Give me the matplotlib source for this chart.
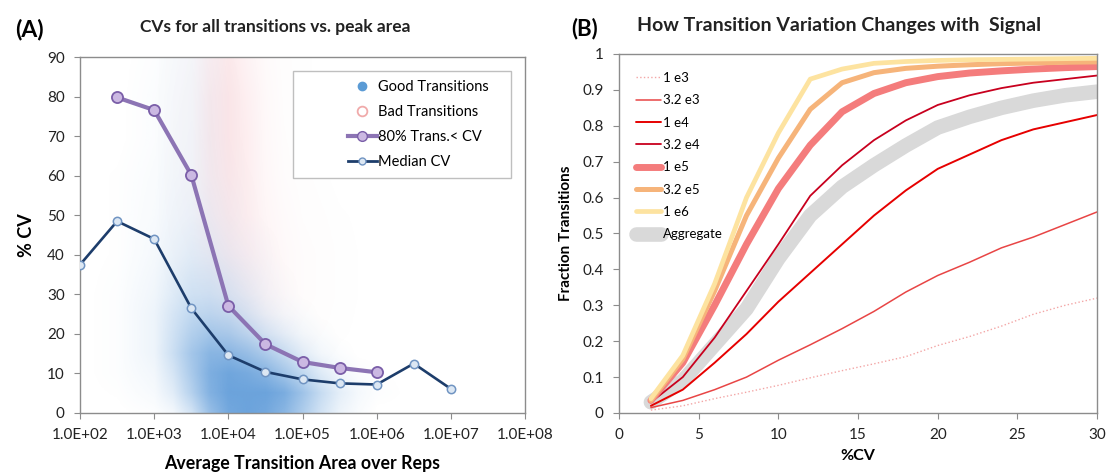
import numpy as np
import matplotlib
matplotlib.use("Agg")
import matplotlib.pyplot as plt
from matplotlib.colors import LinearSegmentedColormap
from matplotlib.lines import Line2D
from matplotlib.patches import Rectangle

plt.rcParams["font.family"] = ["Lato", "DejaVu Sans"]

# ---- panel A data ----
area_80 = [10**2.5, 1e3, 10**3.5, 1e4, 10**4.5, 1e5, 10**5.5, 1e6]
cv_80 = [79.8, 76.6, 60.2, 27.1, 17.4, 12.9, 11.4, 10.3]

area_med = [1e2, 10**2.5, 1e3, 10**3.5, 1e4, 10**4.5, 1e5, 10**5.5, 1e6, 10**6.5, 1e7]
cv_med = [37.5, 48.5, 44.0, 26.5, 14.6, 10.4, 8.5, 7.5, 7.2, 12.5, 6.1]

x_ticks_a = [1e2, 1e3, 1e4, 1e5, 1e6, 1e7, 1e8]
x_labels_a = ["1.0E+02", "1.0E+03", "1.0E+04", "1.0E+05", "1.0E+06", "1.0E+07", "1.0E+08"]

# density of the good-transition cloud (0..1)
good_logx = [2.0, 2.5, 3.0, 3.25, 3.5, 3.75, 4.0, 4.25, 4.5, 4.75, 5.0, 5.25, 5.5, 5.75, 6.0, 6.5]
good_cv = [0, 5, 10, 15, 20, 25, 30, 40, 50, 60, 70, 80, 90]
good_dens = [
    [0, 0.00, 0.02, 0.08, 0.30, 0.70, 0.95, 1.00, 0.95, 0.80, 0.55, 0.30, 0.12, 0.04, 0.00, 0],
    [0, 0.01, 0.06, 0.20, 0.50, 0.85, 1.00, 1.00, 1.00, 0.90, 0.65, 0.38, 0.18, 0.07, 0.02, 0],
    [0, 0.02, 0.09, 0.28, 0.58, 0.88, 0.97, 0.92, 0.82, 0.62, 0.42, 0.22, 0.09, 0.03, 0.01, 0],
    [0, 0.02, 0.12, 0.35, 0.62, 0.80, 0.80, 0.70, 0.55, 0.38, 0.20, 0.08, 0.03, 0.00, 0.00, 0],
    [0, 0.02, 0.12, 0.32, 0.52, 0.62, 0.58, 0.45, 0.30, 0.18, 0.08, 0.03, 0.00, 0.00, 0.00, 0],
    [0, 0.02, 0.12, 0.28, 0.42, 0.45, 0.40, 0.28, 0.15, 0.07, 0.03, 0.00, 0.00, 0.00, 0.00, 0],
    [0, 0.02, 0.10, 0.22, 0.32, 0.33, 0.27, 0.17, 0.08, 0.03, 0.00, 0.00, 0.00, 0.00, 0.00, 0],
    [0, 0.01, 0.07, 0.14, 0.20, 0.19, 0.13, 0.07, 0.03, 0.00, 0.00, 0.00, 0.00, 0.00, 0.00, 0],
    [0, 0.01, 0.05, 0.10, 0.13, 0.12, 0.06, 0.02, 0.00, 0.00, 0.00, 0.00, 0.00, 0.00, 0.00, 0],
    [0, 0.01, 0.04, 0.08, 0.10, 0.08, 0.03, 0.01, 0.00, 0.00, 0.00, 0.00, 0.00, 0.00, 0.00, 0],
    [0, 0.00, 0.03, 0.07, 0.09, 0.07, 0.02, 0.00, 0.00, 0.00, 0.00, 0.00, 0.00, 0.00, 0.00, 0],
    [0, 0.00, 0.03, 0.06, 0.08, 0.06, 0.02, 0.00, 0.00, 0.00, 0.00, 0.00, 0.00, 0.00, 0.00, 0],
    [0, 0.00, 0.02, 0.05, 0.07, 0.05, 0.01, 0.00, 0.00, 0.00, 0.00, 0.00, 0.00, 0.00, 0.00, 0],
]

# density of the bad-transition cloud
bad_logx = [3.0, 3.5, 3.75, 4.0, 4.25, 4.5, 4.75, 5.0, 5.5, 6.0]
bad_cv = [0, 10, 20, 30, 40, 50, 60, 70, 80, 90]
bad_dens = [
    [0, 0.00, 0.00, 0.00, 0.00, 0.00, 0.00, 0.00, 0.00, 0],
    [0, 0.00, 0.00, 0.05, 0.05, 0.05, 0.03, 0.02, 0.00, 0],
    [0, 0.00, 0.05, 0.12, 0.15, 0.15, 0.10, 0.06, 0.02, 0],
    [0, 0.03, 0.12, 0.28, 0.35, 0.30, 0.20, 0.10, 0.03, 0],
    [0, 0.08, 0.30, 0.50, 0.50, 0.35, 0.20, 0.10, 0.03, 0],
    [0, 0.12, 0.45, 0.65, 0.55, 0.30, 0.15, 0.07, 0.02, 0],
    [0, 0.15, 0.55, 0.75, 0.55, 0.25, 0.10, 0.05, 0.00, 0],
    [0, 0.15, 0.60, 0.80, 0.55, 0.22, 0.08, 0.03, 0.00, 0],
    [0, 0.15, 0.60, 0.80, 0.50, 0.20, 0.06, 0.02, 0.00, 0],
    [0, 0.12, 0.50, 0.70, 0.40, 0.15, 0.05, 0.02, 0.00, 0],
]

# ---- panel B data ----
cv_pct = [2, 4, 6, 8, 10, 12, 14, 16, 18, 20, 22, 24, 26, 28, 30]
frac_1e3 = [0.008, 0.02, 0.04, 0.058, 0.077, 0.098, 0.118, 0.137, 0.157, 0.188, 0.213, 0.242, 0.275, 0.30, 0.32]
frac_32e3 = [0.015, 0.035, 0.065, 0.10, 0.147, 0.19, 0.235, 0.283, 0.337, 0.383, 0.42, 0.46, 0.49, 0.525, 0.56]
frac_1e4 = [0.02, 0.065, 0.14, 0.22, 0.31, 0.39, 0.47, 0.55, 0.62, 0.68, 0.72, 0.76, 0.79, 0.81, 0.83]
frac_32e4 = [0.03, 0.10, 0.21, 0.34, 0.47, 0.605, 0.69, 0.76, 0.815, 0.858, 0.885, 0.905, 0.92, 0.93, 0.94]
frac_1e5 = [0.035, 0.14, 0.30, 0.47, 0.625, 0.746, 0.839, 0.89, 0.92, 0.937, 0.947, 0.953, 0.958, 0.962, 0.965]
frac_32e5 = [0.035, 0.15, 0.34, 0.55, 0.71, 0.846, 0.92, 0.948, 0.96, 0.966, 0.97, 0.973, 0.975, 0.977, 0.978]
frac_1e6 = [0.04, 0.16, 0.36, 0.60, 0.78, 0.93, 0.958, 0.974, 0.979, 0.982, 0.984, 0.985, 0.986, 0.987, 0.988]
frac_agg = [0.03, 0.09, 0.19, 0.29, 0.43, 0.55, 0.63, 0.69, 0.745, 0.795, 0.825, 0.85, 0.87, 0.885, 0.895]

GRID = "#8c8c8c"


def style_axes(ax):
    for s in ax.spines.values():
        s.set_color(GRID)
        s.set_linewidth(1)
    ax.tick_params(colors=GRID, labelcolor="#222222", labelsize=11, length=4,
                   direction="out", pad=7)


def upsample(xs, ys, z, xf, yf):
    """Bilinear resampling of a coarse density table onto a fine drawing grid."""
    z = np.asarray(z, dtype=float)
    rows = np.array([np.interp(xf, xs, r) for r in z])
    return np.array([np.interp(yf, ys, rows[:, j]) for j in range(len(xf))]).T


fig = plt.figure(figsize=(11.07, 4.72), dpi=100)
rect_a = [0.0723, 0.125, 0.402, 0.754]

# background axes in log10 units for the point clouds
bg = fig.add_axes(rect_a, zorder=0)
bg.set_xlim(2, 8)
bg.set_ylim(0, 90)
bg.axis("off")
xf = np.linspace(2, 8, 600)
yf = np.linspace(0, 90, 360)
blue_cm = LinearSegmentedColormap.from_list("b", [(0.36, 0.60, 0.85, 0.0), (0.36, 0.60, 0.85, 0.9)])
red_cm = LinearSegmentedColormap.from_list("r", [(0.96, 0.62, 0.66, 0.0), (0.96, 0.62, 0.66, 0.32)])
bg.imshow(upsample(bad_logx, bad_cv, bad_dens, xf, yf), extent=[2, 8, 0, 90], origin="lower",
          aspect="auto", cmap=red_cm, vmin=0, vmax=1, interpolation="bilinear")
bg.imshow(upsample(good_logx, good_cv, good_dens, xf, yf), extent=[2, 8, 0, 90], origin="lower",
          aspect="auto", cmap=blue_cm, vmin=0, vmax=1, interpolation="bilinear")

# ---------------- panel A ----------------
ax1 = fig.add_axes(rect_a, zorder=1)
ax1.patch.set_alpha(0)
ax1.set_xscale("log")

ax1.plot(area_80, cv_80, "-o", color="#8c74b4", lw=3, ms=8, mfc="#cbb8e2",
         mec="#7a5ea8", mew=1.3, zorder=4)
ax1.plot(area_med, cv_med, "-o", color="#1d3d6b", lw=1.9, ms=6, mfc="#dce7f3",
         mec="#7094c2", mew=1.1, zorder=5)

ax1.set_xlim(1e2, 1e8)
ax1.set_ylim(0, 90)
ax1.set_yticks(range(0, 91, 10))
ax1.set_xticks(x_ticks_a)
ax1.set_xticklabels(x_labels_a)
ax1.minorticks_off()
style_axes(ax1)
ax1.set_xlabel("Average Transition Area over Reps", fontsize=12.8, fontweight="bold", labelpad=9)
ax1.set_ylabel("% CV", fontsize=13, fontweight="bold", labelpad=9)

ax1.add_patch(Rectangle((0.479, 0.66), 0.49, 0.301, transform=ax1.transAxes,
                        fill=True, fc="white", ec="#bfbfbf", lw=1, zorder=6))
handles_a = [
    Line2D([], [], ls="none", marker="o", ms=6, color="#5b9bd5"),
    Line2D([], [], ls="none", marker="o", ms=7, mfc="none", mec="#f0aaaa", mew=1.3),
    Line2D([], [], color="#8c74b4", lw=3, marker="o", ms=7, mfc="#cbb8e2", mec="#7a5ea8"),
    Line2D([], [], color="#1d3d6b", lw=2, marker="o", ms=5, mfc="#dce7f3", mec="#7094c2"),
]
labels_a = ["Good Transitions", "Bad Transitions", "80% Trans.< CV", "Median CV"]
leg = ax1.legend(handles_a, labels_a, loc="center left", bbox_to_anchor=(0.585, 0.81),
                 frameon=False, fontsize=10.5, handlelength=2.0, handletextpad=0.1,
                 labelspacing=0.75, borderpad=0)
leg.set_zorder(7)

fig.text(0.014, 0.938, "(A)", fontsize=16.5, fontweight="bold", va="center")
fig.text(0.249, 0.943, "CVs for all transitions vs. peak area", fontsize=12.5,
         fontweight="bold", ha="center", va="center", color="#222222")

# ---------------- panel B ----------------
ax2 = fig.add_axes([0.5592, 0.125, 0.4318, 0.7606])
series_b = [
    (frac_agg, "#d9d9d9", 10.5, "-", "Aggregate"),
    (frac_1e3, "#f3a6a6", 1.0, ":", "1 e3"),
    (frac_32e3, "#e84545", 1.1, "-", "3.2 e3"),
    (frac_1e4, "#e60000", 1.4, "-", "1 e4"),
    (frac_32e4, "#c8001e", 1.3, "-", "3.2 e4"),
    (frac_1e5, "#f47c7c", 5, "-", "1 e5"),
    (frac_32e5, "#f6b47a", 3.6, "-", "3.2 e5"),
    (frac_1e6, "#fde3a0", 3.4, "-", "1 e6"),
]
lines = {}
for vals, col, lw, ls, lab in series_b:
    (ln,) = ax2.plot(cv_pct, vals, color=col, lw=lw, ls=ls, label=lab,
                     solid_capstyle="round")
    lines[lab] = ln

ax2.set_xlim(0, 30)
ax2.set_ylim(0, 1)
ax2.set_xticks(range(0, 31, 5))
ax2.set_yticks([i / 10 for i in range(11)])
ax2.set_yticklabels(["0"] + [f"{i / 10:.1f}" for i in range(1, 10)] + ["1"])
style_axes(ax2)
ax2.set_xlabel("%CV", fontsize=11.5, fontweight="bold", labelpad=5)
ax2.set_ylabel("Fraction Transitions", fontsize=11, fontweight="bold", labelpad=7)

order_b = ["1 e3", "3.2 e3", "1 e4", "3.2 e4", "1 e5", "3.2 e5", "1 e6", "Aggregate"]
ax2.legend([lines[k] for k in order_b], order_b, loc="upper left",
           bbox_to_anchor=(0.022, 0.968), frameon=False, fontsize=9.5,
           handlelength=1.9, handletextpad=0.1, labelspacing=0.78, borderpad=0)

fig.text(0.516, 0.94, "(B)", fontsize=16, fontweight="bold", va="center")
fig.text(0.758, 0.945, "How Transition Variation Changes with  Signal", fontsize=14,
         fontweight="bold", ha="center", va="center", color="#222222")

fig.savefig("out.png", dpi=100)
